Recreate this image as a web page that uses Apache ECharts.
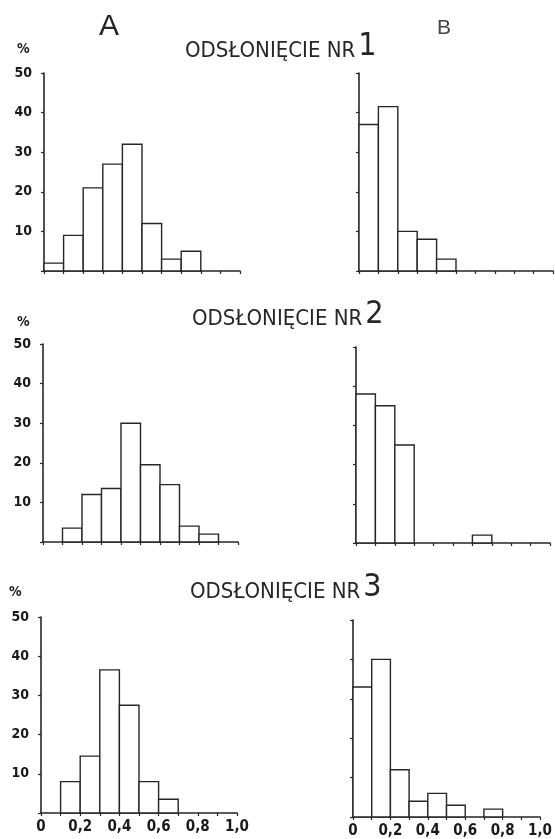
<!DOCTYPE html>
<html>
<head>
<meta charset="utf-8">
<script src="https://cdn.jsdelivr.net/npm/echarts@6/dist/echarts.min.js"></script>
<style>
  html, body { margin: 0; padding: 0; background: #fff; }
  #main { width: 555px; height: 839px; }
</style>
</head>
<body>
<div id="main"></div>
<script>
// granice klas (0 - 1,0)
var binEdges = [0, 0.1, 0.2, 0.3, 0.4, 0.5, 0.6, 0.7, 0.8, 0.9, 1.0];
var yTicks = [10, 20, 30, 40, 50];
var xTickLabels = ['0', '0,2', '0,4', '0,6', '0,8', '1,0'];

// % w klasach
var a1 = [2, 9, 21, 27, 32, 12, 3, 5, 0, 0];
var b1 = [37, 41.5, 10, 8, 3, 0, 0, 0, 0, 0];
var a2 = [0, 3.5, 12, 13.5, 30, 19.5, 14.5, 4, 2, 0];
var b2 = [38, 35, 25, 0, 0, 0, 2, 0, 0, 0];
var a3 = [0, 8, 14.5, 36.5, 27.5, 8, 3.5, 0, 0, 0];
var b3 = [33, 40, 12, 4, 6, 3, 0, 2, 0, 0];

var titles = ['1', '2', '3'];

var ink = '#262626';
var cond = '"DejaVu Sans Condensed", "DejaVu Sans", sans-serif';

// pozycje wykresow (px)
var grids = [
    { left: 44, top: 73, width: 196, height: 198 },
    { left: 359, top: 73, width: 194, height: 198 },
    { left: 43, top: 344, width: 195, height: 198 },
    { left: 356, top: 347, width: 194, height: 196 },
    { left: 41, top: 617, width: 196, height: 196 },
    { left: 353, top: 620, width: 195, height: 197 }
];
var panels = [a1, b1, a2, b2, a3, b3];

function renderItem(params, api) {
    var v = api.value(2);
    if (!v) return null;
    var p0 = api.coord([api.value(0), v]);
    var p1 = api.coord([api.value(1), 0]);
    return {
        type: 'rect',
        shape: { x: p0[0], y: p0[1], width: p1[0] - p0[0], height: p1[1] - p0[1] },
        style: { fill: '#fff', stroke: ink, lineWidth: 1.4 }
    };
}

var xAxes = [], yAxes = [], series = [];
for (var i = 0; i < 6; i++) {
    var isA = (i % 2 === 0);
    var lastRow = (i >= 4);
    xAxes.push({
        type: 'value', gridIndex: i, min: 0, max: 1, interval: 0.1,
        axisLine: { show: true, lineStyle: { color: ink, width: 1.6 } },
        axisTick: { show: true, length: 3, lineStyle: { color: ink, width: 1.2 } },
        splitLine: { show: false },
        axisLabel: {
            show: lastRow, margin: 7, color: '#1a1a1a', fontSize: 15, fontWeight: 'bold',
            fontFamily: cond,
            formatter: function (v) {
                var k = Math.round(v * 10);
                if (k % 2) return '';
                return xTickLabels[k / 2];
            }
        }
    });
    yAxes.push({
        type: 'value', gridIndex: i, min: 0, max: 50, interval: 10,
        axisLine: { show: true, lineStyle: { color: ink, width: 1.6 } },
        axisTick: { show: true, length: 3, lineStyle: { color: ink, width: 1.2 } },
        splitLine: { show: false },
        axisLabel: {
            show: isA, margin: 12, color: '#1a1a1a', fontSize: 14, fontWeight: 'bold',
            fontFamily: cond,
            formatter: function (v) { return yTicks.indexOf(v) >= 0 ? String(v) : ''; }
        }
    });
    var vals = panels[i];
    series.push({
        type: 'custom', xAxisIndex: i, yAxisIndex: i,
        renderItem: renderItem, silent: true,
        data: vals.map(function (v, j) { return [binEdges[j], binEdges[j + 1], v]; })
    });
}

var titleTops = [31, 299, 572];
var titleLefts = [185, 192, 190];
var pctTops = [42, 315, 585];
var pctLefts = [24, 24, 16];

var titleOpts = titles.map(function (n, r) {
    return {
        text: '{t|ODSŁONIĘCIE NR}{n|' + n + '}',
        left: titleLefts[r], top: titleTops[r], padding: 0,
        textStyle: {
            fontWeight: 'normal',
            rich: {
                t: { fontFamily: cond, fontWeight: 'normal', fontSize: 22, color: ink, verticalAlign: 'bottom', padding: [0, 3, 1, 0] },
                n: { fontFamily: cond, fontWeight: 'normal', fontSize: 32, color: ink, verticalAlign: 'bottom' }
            }
        }
    };
});
titleOpts.push({ text: 'A', left: 94, top: 7, textStyle: { fontFamily: 'Liberation Sans', fontWeight: 'normal', fontSize: 30, color: ink } });
titleOpts.push({ text: 'B', left: 432, top: 13, textStyle: { fontFamily: 'Liberation Sans', fontWeight: 'normal', fontSize: 21, color: '#444' } });

var graphics = pctTops.map(function (t, r) {
    return {
        type: 'text', left: pctLefts[r] - 7, top: t,
        style: { text: '%', fontFamily: cond, fontWeight: 'bold', fontSize: 14, fill: '#1a1a1a' }
    };
});

var chart = echarts.init(document.getElementById('main'));
chart.setOption({
    backgroundColor: '#fff',
    animation: false,
    title: titleOpts,
    grid: grids,
    xAxis: xAxes,
    yAxis: yAxes,
    series: series,
    graphic: graphics
});
</script>
</body>
</html>
